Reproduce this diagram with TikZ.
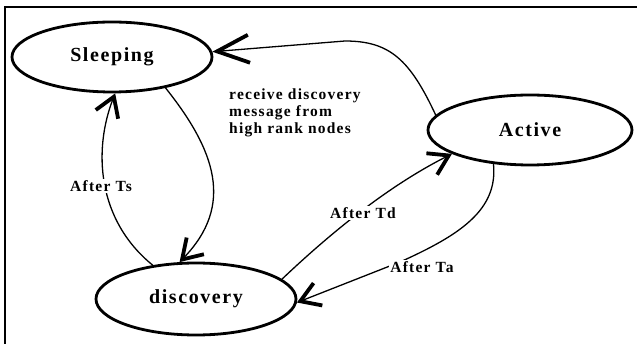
\documentclass[tikz,border=0pt]{standalone}
\usepackage{fontspec}
\setmainfont{Liberation Serif}
\newfontfamily\bigfont{Liberation Serif}[LetterSpace=8]
\newfontfamily\smallfont{Liberation Serif}[LetterSpace=8]
\usetikzlibrary{arrows.meta,shapes.geometric}
\begin{document}
\begin{tikzpicture}[x=1pt,y=-1pt,
  state/.style={draw, line width=2.8pt, ellipse, minimum width=200pt, minimum height=70pt, inner sep=0pt,
    font=\bigfont\bfseries\fontsize{20}{22}\selectfont},
  lbl/.style={fill=white, inner sep=1pt, font=\smallfont\bfseries\fontsize{15.5}{17}\selectfont},
  conn/.style={line width=1.3pt},
  tipsmall/.style={-{Straight Barb[length=19pt,width=24pt,line width=3.8pt]}},
  tipbig/.style={-{Straight Barb[length=32pt,width=28pt,line width=3.8pt]}}
]
\useasboundingbox (0,0) rectangle (637,344);
% frame
\draw[line width=2.5pt] (5,344) -- (5,7) -- (637,7);
% states
\node[state] (S) at (112,57) {Sleeping};
\node[state, minimum width=204pt] (A) at (530,130) {Active};
\node[state, minimum height=72pt] (D) at (196,299) {discovery};
% text
\node[lbl, fill=none, inner sep=0pt, anchor=west, align=left] (msg) at (229,113) {receive discovery\\message from\\high rank nodes};
% connectors
\draw[conn, tipbig] (A.171) .. controls (410,60) and (390,41) .. (345,41) -- (S.3);
\draw[conn, tipsmall] (S.-30) .. controls (215,150) and (235,205) .. (D.114);
\draw[conn, tipsmall] (D.142) .. controls (97,220) and (93,150) .. (S.-85);
\draw[conn, tipsmall] (D.13) .. controls (318,245) and (380,190) .. (A.-163);
\draw[conn, tipsmall] (A.-137) .. controls (498,210) and (460,235) .. (400,262) -- (D.-2);
% labels
\node[lbl] (ts) at (101,186) {After Ts};
\node[lbl] (td) at (363,213) {After Td};
\node[lbl] (ta) at (422,267) {After Ta};
\end{tikzpicture}
\end{document}
